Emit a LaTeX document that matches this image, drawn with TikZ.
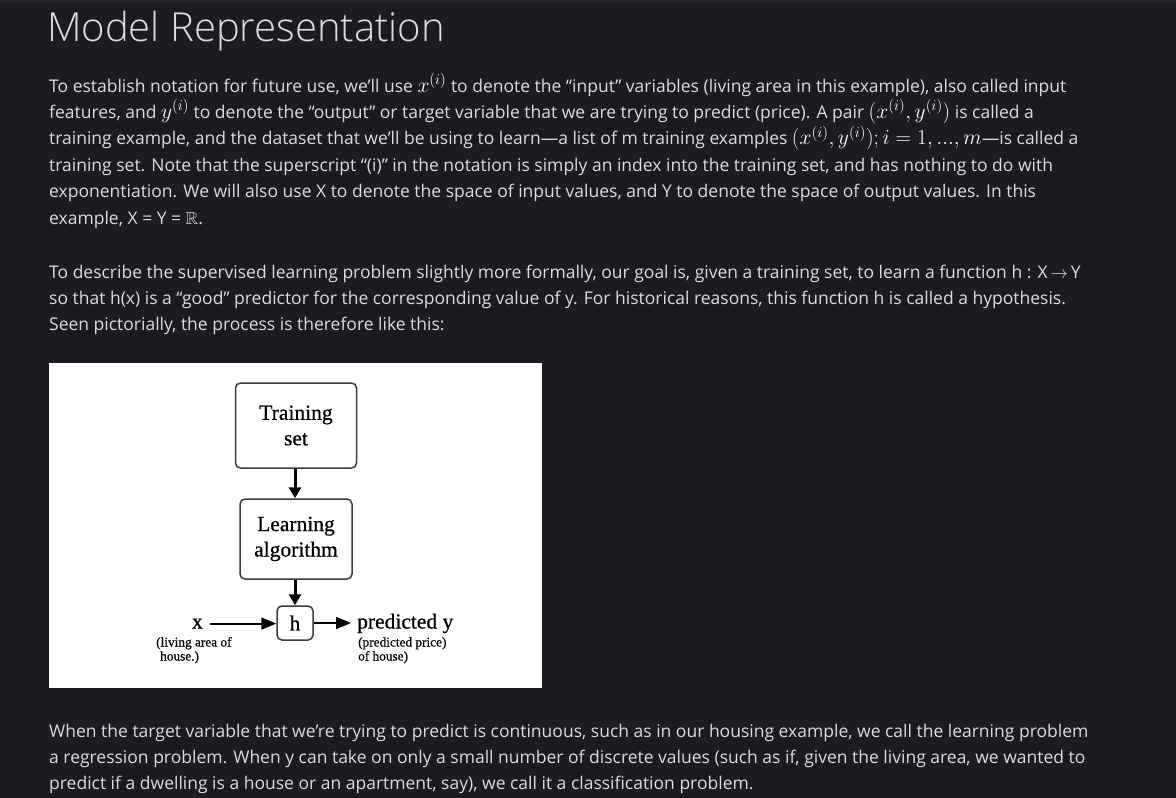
\RequirePackage{fix-cm}
\documentclass[tikz,border=0pt]{standalone}
\usepackage{fontspec}
\usepackage{amssymb}
\setmainfont{Open Sans}
\newfontfamily\titlefont{Open Sans Light}
\newfontfamily\diagfont[FakeBold=0.6]{Liberation Serif}
\usetikzlibrary{arrows.meta}

\definecolor{pagebg}{HTML}{1B1C1F}
\definecolor{topbar}{HTML}{25262A}
\definecolor{bodytext}{HTML}{DCDCDC}
\definecolor{boxline}{HTML}{3C3C3C}
\newcommand{\bodysize}{\fontsize{17.5}{26}\selectfont}
\newcommand{\diagsize}{\diagfont\fontsize{21.5}{25.5}\selectfont}
\newcommand{\mth}[1]{{\fontsize{21.5}{26}\selectfont\color{white}$#1$}}

\begin{document}
\begin{tikzpicture}[x=1pt,y=-1pt,
  textline/.style={anchor=base west,inner sep=0pt,text=bodytext,font=\bodysize},
  blockbox/.style={draw=boxline,line width=1.5pt,rounded corners=5pt,align=center,inner sep=0pt,font=\diagsize},
  caption/.style={inner sep=0pt,font=\diagsize},
  note/.style={anchor=base west,inner sep=0pt,font=\diagfont\fontsize{13.3}{14}\selectfont},
  flow/.style={line width=3pt,-{Triangle[length=11pt,width=12pt]}},
  feed/.style={line width=1.9pt,-{Triangle[length=15pt,width=12pt]}}]
\fill[pagebg] (0,0) rectangle (1176,798);
\fill[topbar] (0,0) rectangle (1176,3);
\useasboundingbox (0,0) rectangle (1176,798);

% page text
\node[anchor=base west,inner sep=0pt,text=bodytext,font=\titlefont\fontsize{40}{44}\selectfont] (title) at (47,41) {Model Representation};

\node[textline] (pa1) at (49,92) {To establish notation for future use, we’ll use \mth{x^{(i)}} to denote the “input” variables (living area in this example), also called input};
\node[textline] (pa2) at (49,118.4) {features, and \mth{y^{(i)}} to denote the “output” or target variable that we are trying to predict (price). A pair \mth{(x^{(i)},y^{(i)})} is called a};
\node[textline] (pa3) at (49,144.8) {training example, and the dataset that we’ll be using to learn—a list of m training examples \mth{(x^{(i)},y^{(i)});i=1,...,m}—is called a};
\node[textline] (pa4) at (49,171.2) {training set. Note that the superscript “(i)” in the notation is simply an index into the training set, and has nothing to do with};
\node[textline] (pa5) at (49,197.6) {exponentiation. We will also use X to denote the space of input values, and Y to denote the space of output values. In this};
\node[textline] (pa6) at (49,224) {example, X = Y = $\mathbb{R}$.};

\node[textline] (pb1) at (49,278) {To describe the supervised learning problem slightly more formally, our goal is, given a training set, to learn a function h : X$\,\rightarrow\,$Y};
\node[textline] (pb2) at (49,304.3) {so that h(x) is a “good” predictor for the corresponding value of y. For historical reasons, this function h is called a hypothesis.};
\node[textline] (pb3) at (49,330.6) {Seen pictorially, the process is therefore like this:};

\node[textline] (pc1) at (49,737) {When the target variable that we’re trying to predict is continuous, such as in our housing example, we call the learning problem};
\node[textline] (pc2) at (49,763) {a regression problem. When y can take on only a small number of discrete values (such as if, given the living area, we wanted to};
\node[textline] (pc3) at (49,789) {predict if a dwelling is a house or an apartment, say), we call it a classification problem.};

% the figure
\fill[white] (49,363) rectangle (542,688);
\node[blockbox,minimum width=121pt,minimum height=85pt] (train) at (296,425.5) {Training\\set};
\node[blockbox,minimum width=112pt,minimum height=80pt] (learn) at (296,539) {Learning\\algorithm};
\node[blockbox,minimum width=36pt,minimum height=34pt] (hyp) at (295,623) {h};
\node[caption,anchor=base east] (xin) at (203,628.5) {x};
\node[caption,anchor=base west] (yout) at (357,628.5) {predicted y};
\node[note] (xnotea) at (156,646.5) {(living area of};
\node[note] (xnoteb) at (160,660.5) {house.)};
\node[note] (ynotea) at (358,646.5) {(predicted price)};
\node[note] (ynoteb) at (358,660.5) {of house)};

\draw[flow] (train.south -| hyp) -- (learn.north -| hyp);
\draw[flow] (learn.south -| hyp) -- (hyp);
\draw[feed,shorten <=7pt] (xin.east) -- (xin.east -| hyp.west);
\draw[feed,shorten >=6pt] (hyp.east) -- (hyp.east -| yout.west);
\end{tikzpicture}
\end{document}
